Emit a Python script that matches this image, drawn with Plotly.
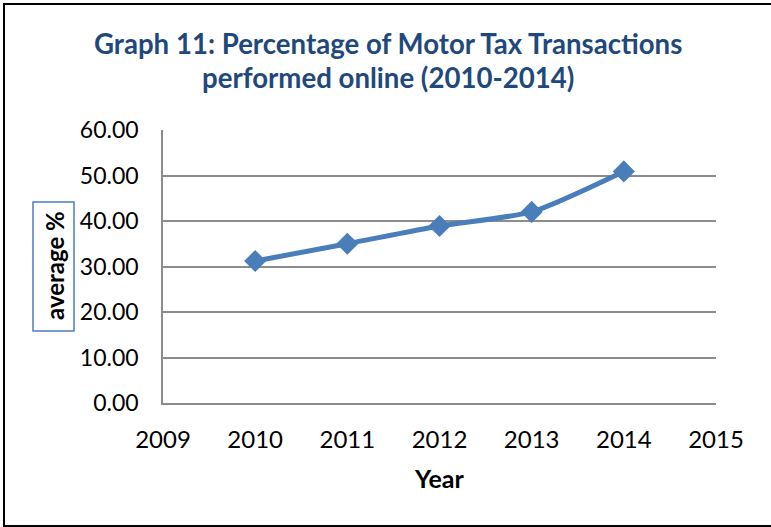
import plotly.graph_objects as go

years = [2010, 2011, 2012, 2013, 2014]
avg_pct = [31.2, 35.0, 38.9, 42.0, 50.9]
y_ticks = [0, 10, 20, 30, 40, 50, 60]
x_ticks = [2009, 2010, 2011, 2012, 2013, 2014, 2015]

W, H = 771, 527
L, R, T, B = 163, 55, 130, 124
pw, ph = W - L - R, H - T - B

def px(x):
    return (x - L) / pw

def py(y):
    return (H - B - y) / ph

FONT = "Lato"
BLUE = "#4A7EBB"
GRID = "#8C8C8C"

fig = go.Figure()
fig.add_trace(go.Scatter(
    x=years, y=avg_pct, mode="lines+markers",
    line=dict(color=BLUE, width=5, shape="spline", smoothing=0.6),
    marker=dict(symbol="diamond", size=17, color=BLUE),
    showlegend=False, hoverinfo="x+y",
))

fig.update_layout(
    width=W, height=H,
    margin=dict(l=L, r=R, t=T, b=B),
    paper_bgcolor="white", plot_bgcolor="white",
    font=dict(family=FONT, color="black", size=24),
    xaxis=dict(range=[2009, 2015], tickvals=x_ticks, ticktext=[str(v) for v in x_ticks],
               showgrid=False, showline=True, linecolor=GRID, linewidth=1.5,
               zeroline=False, ticks="", ticklabelstandoff=14,
               tickfont=dict(family=FONT, size=24, color="black")),
    yaxis=dict(range=[0, 60], tickvals=y_ticks, ticktext=[f"{v:.2f}" for v in y_ticks],
               showgrid=True, gridcolor=GRID, gridwidth=1.5,
               showline=True, linecolor=GRID, linewidth=1.5,
               zeroline=False, ticks="", ticklabelstandoff=18,
               tickfont=dict(family=FONT, size=23, color="black")),
)

# outer chart border (right edge falls outside the picture, as in the original)
fig.add_shape(type="rect", xref="paper", yref="paper",
              x0=px(4), x1=px(780), y0=py(526), y1=py(4),
              line=dict(color="black", width=2), layer="below")

# y-axis title box
fig.add_shape(type="rect", xref="paper", yref="paper",
              x0=px(33), x1=px(74), y0=py(331), y1=py(202),
              line=dict(color=BLUE, width=1.5))

annotations = [
    dict(text="<b>Graph 11: Percentage of Motor Tax Transactions</b>", x=px(388), y=py(43),
         font=dict(family=FONT, size=27.6, color="#1F497D")),
    dict(text="<b>performed online (2010-2014)</b>", x=px(388), y=py(77),
         font=dict(family=FONT, size=27.6, color="#1F497D")),
    dict(text="<b>average %</b>", x=px(54), y=py(266), textangle=-90,
         font=dict(family=FONT, size=24, color="black")),
    dict(text="<b>Year</b>", x=px(439), y=py(478),
         font=dict(family=FONT, size=25, color="black")),
]
for a in annotations:
    fig.add_annotation(xref="paper", yref="paper", showarrow=False,
                       xanchor="center", yanchor="middle", **a)

fig.write_html("out.html", config={"displayModeBar": False},
               post_script="document.body.style.margin='0';")
